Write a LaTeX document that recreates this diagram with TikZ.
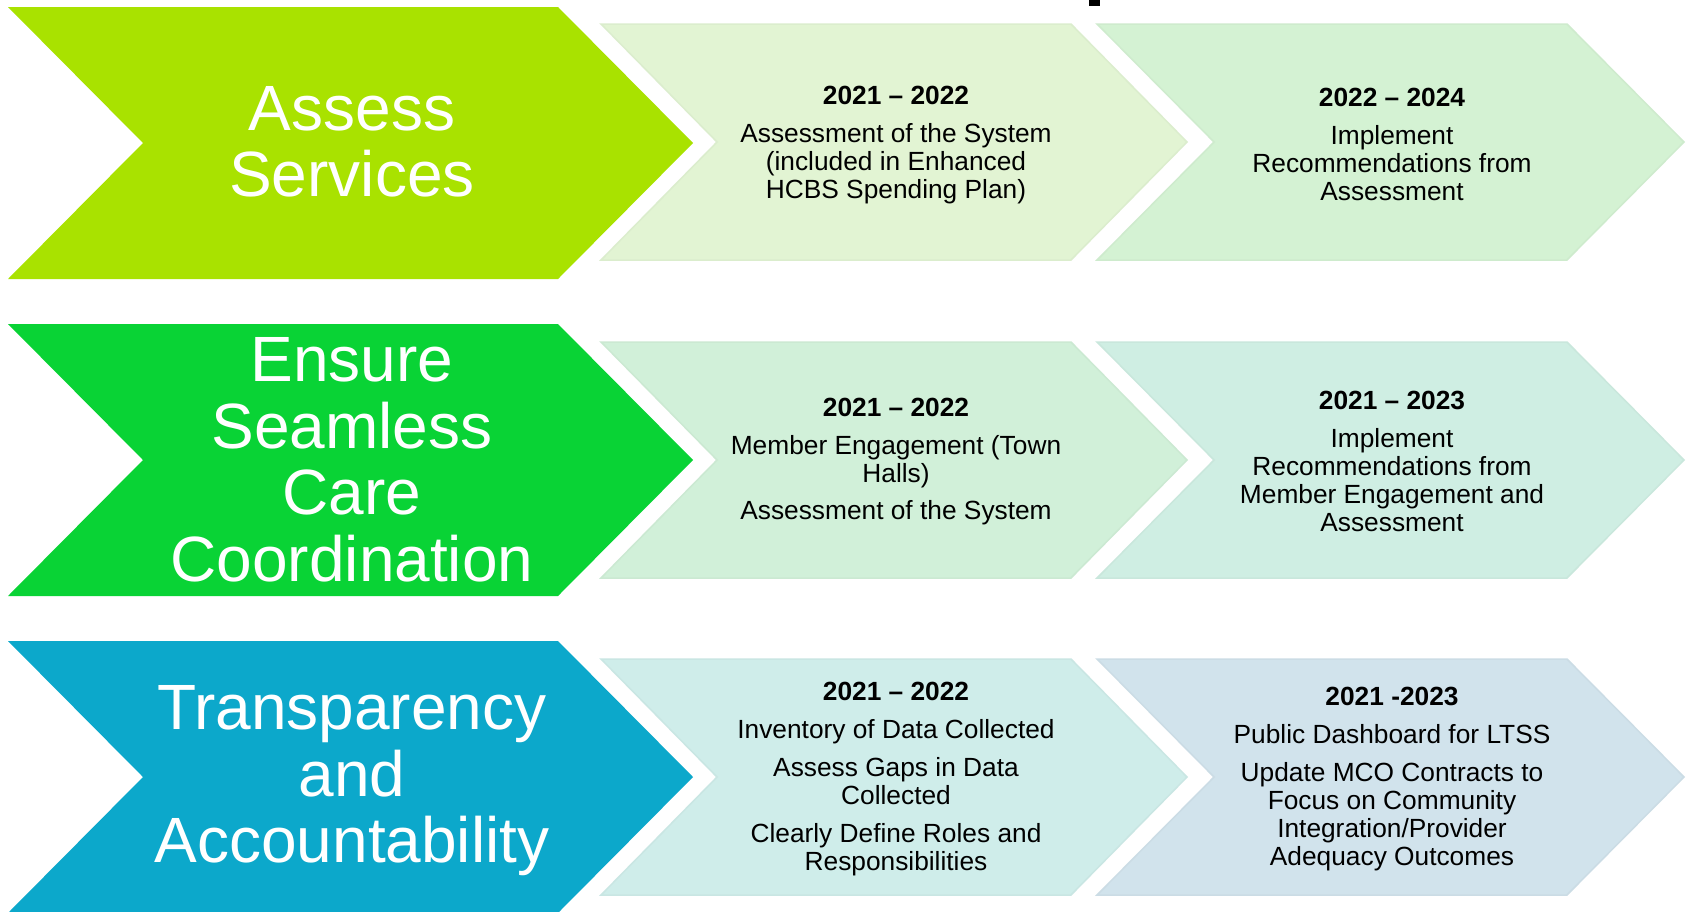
\documentclass[tikz,border=0pt]{standalone}
\usepackage{fontspec}
\setmainfont{Liberation Sans}
\usepackage{tikz}
\usetikzlibrary{positioning}

\definecolor{assessgreen}{HTML}{A9E200}
\definecolor{caregreen}{HTML}{09D335}
\definecolor{transblue}{HTML}{0CA8CB}
\definecolor{paleA1}{HTML}{E2F4D3}
\definecolor{paleA2}{HTML}{D4F2D3}
\definecolor{paleB1}{HTML}{D1F0D9}
\definecolor{paleB2}{HTML}{CFEEE3}
\definecolor{paleC1}{HTML}{CFEDEA}
\definecolor{paleC2}{HTML}{D1E3EC}

% chevron: style, left, top, bottom, body width, point depth
\newcommand{\chev}[6]{%
  \path[#1] (#2,#3) -- (#2+#5,#3) -- (#2+#5+#6,{(#3+#4)/2}) -- (#2+#5,#4)
    -- (#2,#4) -- (#2+#6,{(#3+#4)/2}) -- cycle;
}

\begin{document}
\begin{tikzpicture}[x=1pt, y=-1pt,
  big/.style={text=white, align=center, font={\fontsize{64}{66.5}\selectfont}},
  stage/.style={text=black, align=center, font={\fontsize{26.3}{28}\selectfont}},
  pale/.style={fill=#1, draw=#1!97!black, line width=1.5pt, line join=miter}]

\clip (0,0) rectangle (1688,911);
\fill[white] (0,0) rectangle (1688,911);

% bit of the heading above
\fill[black] (1089,0) rectangle (1100,6);

% chevrons
\chev{fill=assessgreen}{8}{7}{279}{550}{135}
\chev{fill=caregreen}{8}{324}{596}{550}{135}
\chev{fill=transblue}{8}{641}{913}{550}{135}

\chev{pale=paleA1}{601}{24}{260}{470}{116}
\chev{pale=paleA2}{1097}{24}{260}{470}{117}
\chev{pale=paleB1}{601}{342}{578}{470}{116}
\chev{pale=paleB2}{1097}{342}{578}{470}{117}
\chev{pale=paleC1}{601}{659}{895}{470}{116}
\chev{pale=paleC2}{1097}{659}{895}{470}{117}

% nodes
\node[big] (A) at (352, 142) {Assess\\Services};
\node[big] (B) at (352, 460) {Ensure\\Seamless\\Care\\Coordination};
\node[big] (C) at (352, 781) {Transparency\\and\\Accountability};

\node[stage] (A1) at (896, 145) {\textbf{2021 – 2022}\\[10pt]Assessment of the System\\(included in Enhanced\\HCBS Spending Plan)};
\node[stage] (A2) at (1392, 144) {\textbf{2022 – 2024}\\[10pt]Implement\\Recommendations from\\Assessment};

\node[stage] (B1) at (896, 462) {\textbf{2021 – 2022}\\[10pt]Member Engagement (Town\\Halls)\\[9pt]Assessment of the System};
\node[stage] (B2) at (1392, 461) {\textbf{2021 – 2023}\\[10pt]Implement\\Recommendations from\\Member Engagement and\\Assessment};

\node[stage] (C1) at (896, 779) {\textbf{2021 – 2022}\\[10pt]Inventory of Data Collected\\[10pt]Assess Gaps in Data\\Collected\\[10pt]Clearly Define Roles and\\Responsibilities};
\node[stage] (C2) at (1392, 779) {\textbf{2021 -2023}\\[10pt]Public Dashboard for LTSS\\[10pt]Update MCO Contracts to\\Focus on Community\\Integration/Provider\\Adequacy Outcomes};

\end{tikzpicture}
\end{document}
